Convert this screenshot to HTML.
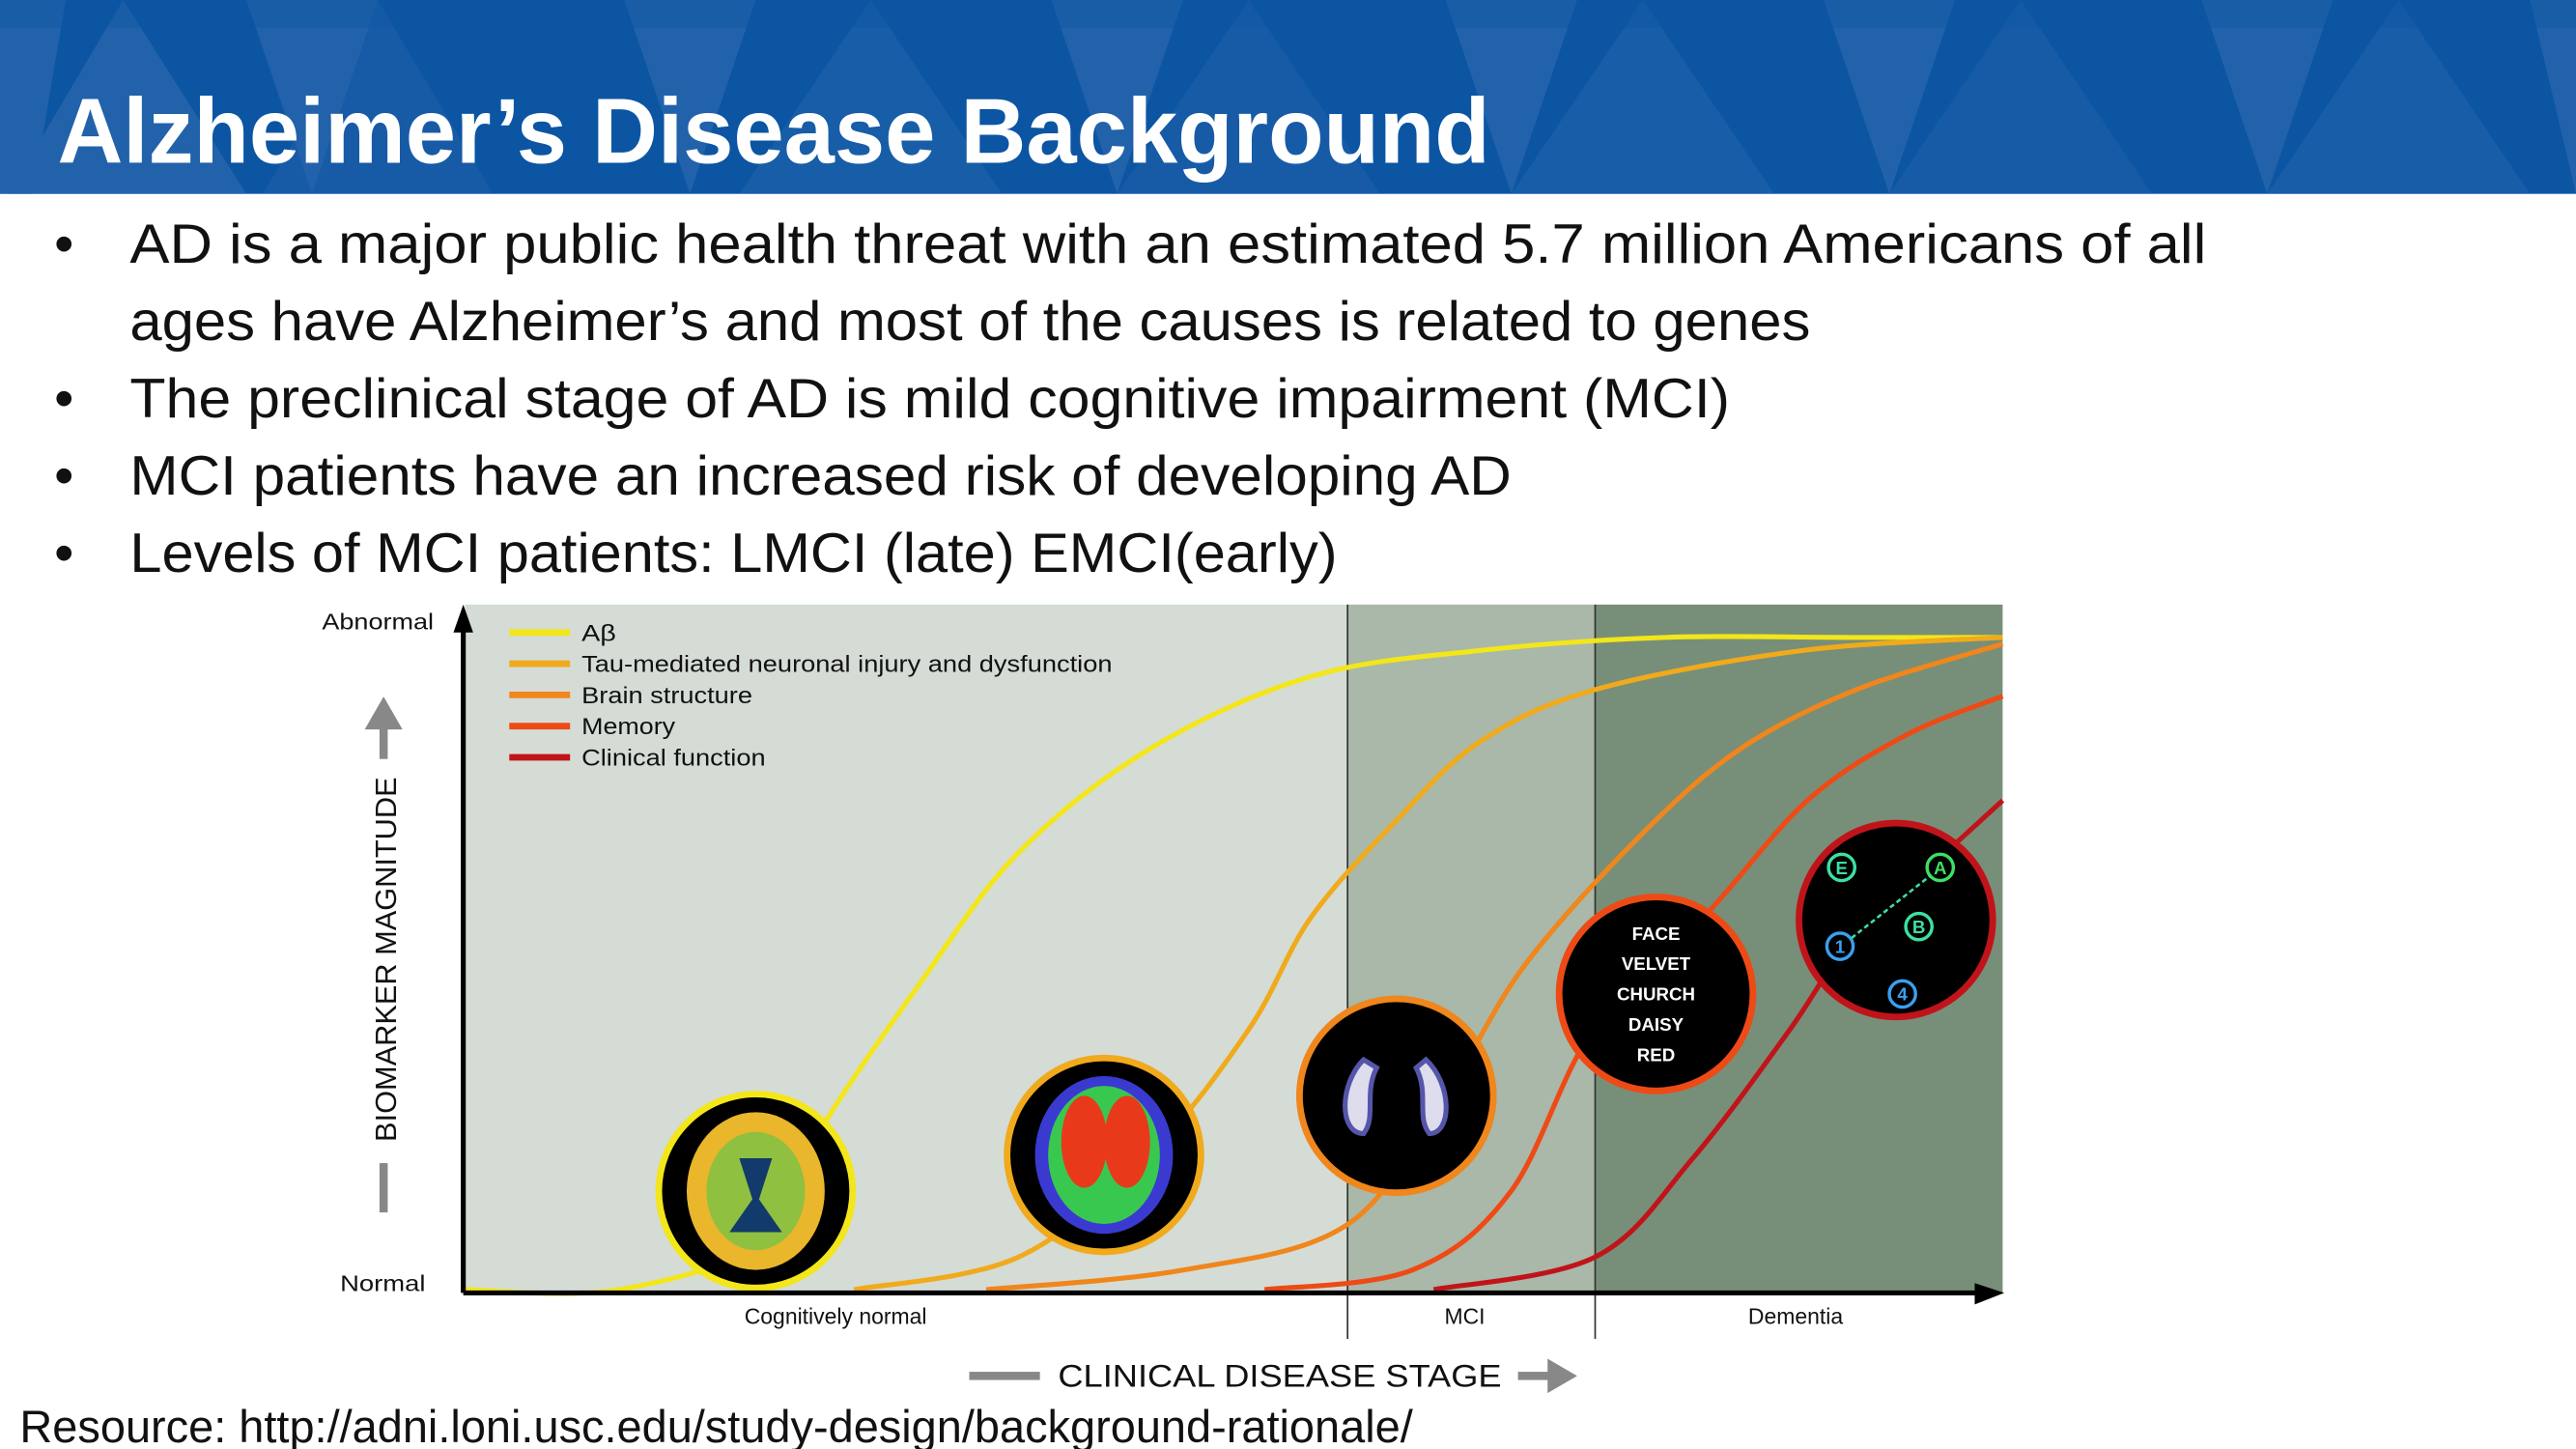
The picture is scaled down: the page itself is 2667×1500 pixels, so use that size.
<!DOCTYPE html>
<html><head><meta charset="utf-8"><style>
html,body{margin:0;padding:0;background:#fff;width:2667px;height:1500px;overflow:hidden}
svg{display:block}
</style></head><body>
<svg id="s" width="2667" height="1500" viewBox="0 0 1568 882" preserveAspectRatio="none" xmlns="http://www.w3.org/2000/svg">
<g>
<rect x="0" y="0" width="1568" height="118" fill="#0b55a3"/>
<g fill="#2564ab" opacity="0.9">
<polygon points="0,0 40,0 20,118 0,118"/><polygon points="75,0 150,118 5,118"/>
<polygon points="150,0 230,0 190,118"/><polygon points="230,0 300,118 160,118" opacity="0.5"/>
<polygon points="380,0 460,0 420,118"/><polygon points="530,0 610,118 450,118" opacity="0.6"/>
<polygon points="640,0 720,0 680,118"/><polygon points="760,0 840,118 680,118" opacity="0.5"/>
<polygon points="880,0 960,0 920,118"/><polygon points="1000,0 1080,118 920,118" opacity="0.6"/>
<polygon points="1110,0 1190,0 1150,118"/><polygon points="1230,0 1310,118 1150,118" opacity="0.5"/>
<polygon points="1340,0 1420,0 1380,118"/><polygon points="1460,0 1540,118 1380,118" opacity="0.6"/>
<polygon points="1540,0 1568,0 1568,118"/>
</g>
<rect x="0" y="0" width="1568" height="17" fill="#0b55a3" opacity="0.35"/>
<text x="35" y="99" font-family="Liberation Sans, sans-serif" font-weight="bold" font-size="56" fill="#fff" textLength="872" lengthAdjust="spacingAndGlyphs">Alzheimer’s Disease Background</text>
</g>
<g font-family="Liberation Sans, sans-serif" font-size="34" fill="#111">
<text x="33" y="160">•</text><text x="79" y="160" textLength="1264" lengthAdjust="spacingAndGlyphs">AD is a major public health threat with an estimated 5.7 million Americans of all</text>
<text x="79" y="207" textLength="1023" lengthAdjust="spacingAndGlyphs">ages have Alzheimer’s and most of the causes is related to genes</text>
<text x="33" y="254">•</text><text x="79" y="254" textLength="974" lengthAdjust="spacingAndGlyphs">The preclinical stage of AD is mild cognitive impairment (MCI)</text>
<text x="33" y="301">•</text><text x="79" y="301" textLength="841" lengthAdjust="spacingAndGlyphs">MCI patients have an increased risk of developing AD</text>
<text x="33" y="348">•</text><text x="79" y="348" textLength="735" lengthAdjust="spacingAndGlyphs">Levels of MCI patients: LMCI (late) EMCI(early)</text>
</g>
<g id="chart"></g>
<text x="12" y="878" font-family="Liberation Sans, sans-serif" font-size="28" fill="#111" textLength="848" lengthAdjust="spacingAndGlyphs">Resource: http://adni.loni.usc.edu/study-design/background-rationale/</text>
</svg>
<script>
const seriesNames=["Aβ","Tau-mediated neuronal injury and dysfunction","Brain structure","Memory","Clinical function"];
const seriesColors=["#f3e61a","#f0aa1c","#f0861c","#ee4a16","#c0141a"];
const legendLen=[21,323,104,57,112];
const abX=[0,10,20,23,29.6,36,44.6,55,66,78,90,100];
const abV=[0,0,8,24,47,67,83,94,98,100,100,100];
const tauX=[25.3,36,44.6,51,55,60.6,66,73.5,87,100];
const tauV=[0,5,21,40,57,72,84,92,98,100];
const brainX=[33.9,46.7,57.4,63.8,69,76.6,83,90.5,100];
const brainV=[0,3,10,30,50,70,83,92,99];
const memX=[52,61.6,68,73.4,80.9,87.3,93.7,100];
const memV=[0,3,15,40,58,75,85,91];
const clinX=[63,73.5,79.8,86.2,90.5,95.8,100];
const clinV=[0,5,20,40,55,66,75];
const stageNames=["Cognitively normal","MCI","Dementia"];
const stageBounds=[0,57.4,73.5,100];
const yTicks=["Normal","Abnormal"];
const NS="http://www.w3.org/2000/svg";
const X0=283,X1=1219,Y0=785,Y1=388;
function sx(v){return X0+(X1-X0)*v/100;}
function sy(v){return Y0-(Y0-Y1)*v/100;}
const g=document.getElementById('chart');
function mk(t,a,p){const e=document.createElementNS(NS,t);for(const k in a)e.setAttribute(k,a[k]);(p||g).appendChild(e);return e;}
const bandColors=["#d5dcd5","#a9b8a8","#778f78"];
const stageOff=[-3,-4,-2];
for(let i=0;i<3;i++){
 const r=mk('rect',{x:sx(stageBounds[i]),y:368,width:sx(stageBounds[i+1])-sx(stageBounds[i]),height:Y0+2-368,fill:bandColors[i]});
 
 
 if(i>0){const l=mk('line',{x1:sx(stageBounds[i]),y1:368,x2:sx(stageBounds[i]),y2:815,stroke:'#333','stroke-width':1});
 
 }
 const t=mk('text',{x:(sx(stageBounds[i])+sx(stageBounds[i+1]))/2-(i==0?40:0)+stageOff[i],y:806,'font-family':'Liberation Sans, sans-serif','font-size':13.5,fill:'#111','text-anchor':'middle'});
 t.textContent=stageNames[i];
 
 
}
function path(xs,vs){const p=xs.map((x,i)=>[sx(x),sy(vs[i])]);let d='M'+p[0][0]+','+p[0][1];
 for(let i=0;i<p.length-1;i++){const a=p[Math.max(0,i-1)],b=p[i],c=p[i+1],e=p[Math.min(p.length-1,i+2)];
 d+=' C'+(b[0]+(c[0]-a[0])/6)+','+(b[1]+(c[1]-a[1])/6)+' '+(c[0]-(e[0]-b[0])/6)+','+(c[1]-(e[1]-b[1])/6)+' '+c[0]+','+c[1];}
 return d;}
const all=[[abX,abV],[tauX,tauV],[brainX,brainV],[memX,memV],[clinX,clinV]];
all.forEach((s,i)=>{const p=mk('path',{d:path(s[0],s[1]),fill:'none',stroke:seriesColors[i],'stroke-width':3});
 
 });
const circ=[[460,725,"#f3e61a"],[672,703,"#f0aa1c"],[850,667,"#f0861c"],[1008,605,"#ee4a16"],[1154,560,"#c0141a"]];
circ.forEach((c,i)=>{const e=mk('circle',{cx:c[0],cy:c[1],r:59,fill:'#000',stroke:c[2],'stroke-width':4});
 
 });
mk('ellipse',{cx:460,cy:725,rx:42,ry:48,fill:'#e9b62c'});mk('ellipse',{cx:460,cy:725,rx:30,ry:36,fill:'#8fc040'});mk('path',{d:'M450,705 L470,705 L462,730 L476,750 L444,750 L458,730Z',fill:'#123a6a'});
mk('ellipse',{cx:672,cy:703,rx:42,ry:48,fill:'#3a3ad0'});mk('ellipse',{cx:672,cy:703,rx:34,ry:42,fill:'#38c850'});mk('ellipse',{cx:660,cy:695,rx:14,ry:28,fill:'#e83a1a'});mk('ellipse',{cx:686,cy:695,rx:14,ry:28,fill:'#e83a1a'});
mk('path',{d:'M830,645 C815,660 815,690 830,690 C838,680 830,665 838,650Z',fill:'#dde',stroke:'#55a','stroke-width':3});
mk('path',{d:'M868,645 C884,660 884,690 870,690 C862,680 870,665 862,650Z',fill:'#dde',stroke:'#55a','stroke-width':3});
["FACE","VELVET","CHURCH","DAISY","RED"].forEach((w,i)=>{const t=mk('text',{x:1008,y:572+i*18.5,'font-family':'Liberation Sans, sans-serif','font-size':11,'font-weight':'bold',fill:'#fff','text-anchor':'middle'});t.textContent=w;});
[[1121,528,'E','#3de0a0'],[1181,528,'A','#3de060'],[1168,564,'B','#3de0a0'],[1120,576,'1','#3aa0f0'],[1158,605,'4','#3aa0f0']].forEach(n=>{mk('circle',{cx:n[0],cy:n[1],r:8,fill:'none',stroke:n[3],'stroke-width':2});const t=mk('text',{x:n[0],y:n[1]+4,'font-family':'Liberation Sans, sans-serif','font-size':11,'font-weight':'bold',fill:n[3],'text-anchor':'middle'});t.textContent=n[2];});
mk('line',{x1:1127,y1:571,x2:1175,y2:533,stroke:'#3de0a0','stroke-width':1.5,'stroke-dasharray':'3,2'});
seriesNames.forEach((n,i)=>{const y=385+i*19;
 const l=mk('line',{x1:310,y1:y,x2:347,y2:y,stroke:seriesColors[i],'stroke-width':4});
 
 
 const t=mk('text',{x:354,y:y+5,'font-family':'Liberation Sans, sans-serif','font-size':14,fill:'#111',textLength:legendLen[i],lengthAdjust:'spacingAndGlyphs'});t.textContent=n;
 
 });
mk('line',{x1:282,y1:787,x2:1208,y2:787,stroke:'#000','stroke-width':3});
mk('polygon',{points:'1220,787 1202,781 1202,794',fill:'#000'});
mk('line',{x1:282,y1:787,x2:282,y2:380,stroke:'#000','stroke-width':3});
mk('polygon',{points:'282,368 276,385 288,385',fill:'#000'});
const yt=[[Y0,yTicks[0]],[378,yTicks[1]]];
yt.forEach((v,i)=>{const t=mk('text',{x:i?264:259,y:v[0]+(i?5:1),'font-family':'Liberation Sans, sans-serif','font-size':13.5,fill:'#111','text-anchor':'end',textLength:i?68:52,lengthAdjust:'spacingAndGlyphs'});t.textContent=v[1];
 
 });
const yl=mk('text',{x:0,y:0,transform:'translate(241,584) rotate(-90)','font-family':'Liberation Sans, sans-serif','font-size':18,fill:'#111','text-anchor':'middle',textLength:222,lengthAdjust:'spacingAndGlyphs'});yl.textContent='BIOMARKER MAGNITUDE';


mk('rect',{x:231,y:708,width:5,height:30,fill:'#888'});mk('rect',{x:231,y:440,width:5,height:22,fill:'#888'});mk('polygon',{points:'233.5,424 222,444 245,444',fill:'#888'});
const xl=mk('text',{x:779,y:844,'font-family':'Liberation Sans, sans-serif','font-size':19,fill:'#111','text-anchor':'middle',textLength:270,lengthAdjust:'spacingAndGlyphs'});xl.textContent='CLINICAL DISEASE STAGE';


mk('rect',{x:590,y:835,width:43,height:5,fill:'#888'});mk('rect',{x:924,y:835,width:20,height:5,fill:'#888'});mk('polygon',{points:'960,837.5 942,827 942,848',fill:'#888'});
</script>
</body></html>
